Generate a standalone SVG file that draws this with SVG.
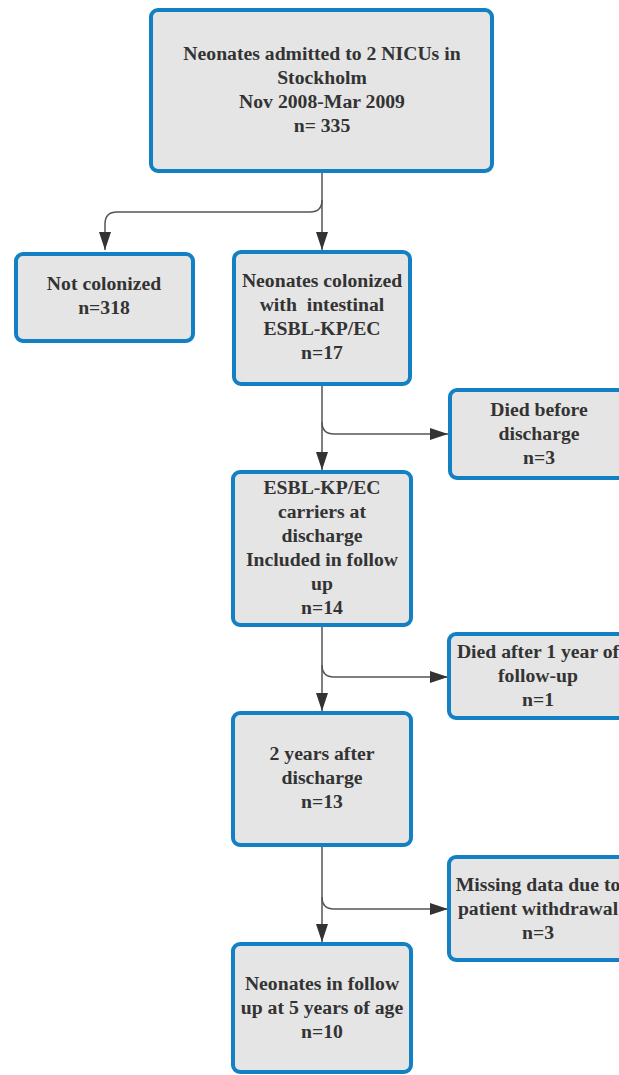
<svg xmlns="http://www.w3.org/2000/svg" width="619" height="1075" viewBox="0 0 619 1075">
  <style>
    .box { fill: #e5e5e5; stroke: #1480c4; stroke-width: 4; }
    .label { font-family: "Liberation Serif", "Times New Roman", serif; font-weight: bold; font-size: 19.7px; fill: #333333; text-anchor: middle; white-space: pre; }
    .link { fill: none; stroke: #555555; stroke-width: 1.5; }
  </style>
  <defs>
    <marker id="arrow" markerUnits="userSpaceOnUse" markerWidth="20" markerHeight="14" refX="18" refY="6" orient="auto">
      <path d="M0 0 L18 6 L0 12 Z" fill="#333333"/>
    </marker>
  </defs>
  <rect width="619" height="1075" fill="#ffffff"/>

  <g id="connectors">
    <path class="link" d="M322 173 V250" marker-end="url(#arrow)"/>
    <path class="link" d="M322 200 Q322 212 310 212 H117 Q105 212 105 224 V250" marker-end="url(#arrow)"/>
    <path class="link" d="M322 386 V470" marker-end="url(#arrow)"/>
    <path class="link" d="M322 422 Q322 434 334 434 H448" marker-end="url(#arrow)"/>
    <path class="link" d="M322 627 V711" marker-end="url(#arrow)"/>
    <path class="link" d="M322 665 Q322 677 334 677 H448" marker-end="url(#arrow)"/>
    <path class="link" d="M322 847 V942" marker-end="url(#arrow)"/>
    <path class="link" d="M322 897 Q322 909 334 909 H448" marker-end="url(#arrow)"/>
  </g>

  <g id="admitted">
    <rect class="box" x="151" y="10" width="341" height="161" rx="7"/>
    <text class="label" x="322" y="60">Neonates admitted to 2 NICUs in</text>
    <text class="label" x="322" y="84">Stockholm</text>
    <text class="label" x="322" y="108">Nov 2008-Mar 2009</text>
    <text class="label" x="322" y="132">n= 335</text>
  </g>

  <g id="not-colonized">
    <rect class="box" x="16" y="254" width="177" height="87" rx="7"/>
    <text class="label" x="104" y="290">Not colonized</text>
    <text class="label" x="104" y="314">n=318</text>
  </g>

  <g id="colonized">
    <rect class="box" x="234" y="252" width="176" height="132" rx="7"/>
    <text class="label" x="322" y="287">Neonates colonized</text>
    <text class="label" x="322" y="311">with  intestinal</text>
    <text class="label" x="322" y="335">ESBL-KP/EC</text>
    <text class="label" x="322" y="359">n=17</text>
  </g>

  <g id="died-before">
    <rect class="box" x="450" y="390" width="180" height="88" rx="7"/>
    <text class="label" x="539" y="416">Died before</text>
    <text class="label" x="539" y="440">discharge</text>
    <text class="label" x="539" y="464">n=3</text>
  </g>

  <g id="carriers">
    <rect class="box" x="233" y="472" width="178" height="153" rx="7"/>
    <text class="label" x="322" y="494">ESBL-KP/EC</text>
    <text class="label" x="322" y="518">carriers at</text>
    <text class="label" x="322" y="542">discharge</text>
    <text class="label" x="322" y="566">Included in follow</text>
    <text class="label" x="322" y="590">up</text>
    <text class="label" x="322" y="614">n=14</text>
  </g>

  <g id="died-after">
    <rect class="box" x="449" y="634" width="181" height="84" rx="7"/>
    <text class="label" x="538" y="658">Died after 1 year of</text>
    <text class="label" x="538" y="682">follow-up</text>
    <text class="label" x="538" y="706">n=1</text>
  </g>

  <g id="two-years">
    <rect class="box" x="233" y="713" width="178" height="132" rx="7"/>
    <text class="label" x="322" y="760">2 years after</text>
    <text class="label" x="322" y="784">discharge</text>
    <text class="label" x="322" y="808">n=13</text>
  </g>

  <g id="withdrawal">
    <rect class="box" x="449" y="857" width="181" height="103" rx="7"/>
    <text class="label" x="538" y="891">Missing data due to</text>
    <text class="label" x="538" y="915">patient withdrawal</text>
    <text class="label" x="538" y="939">n=3</text>
  </g>

  <g id="five-years">
    <rect class="box" x="233" y="944" width="178" height="128" rx="7"/>
    <text class="label" x="322" y="990">Neonates in follow</text>
    <text class="label" x="322" y="1014">up at 5 years of age</text>
    <text class="label" x="322" y="1038">n=10</text>
  </g>
</svg>
